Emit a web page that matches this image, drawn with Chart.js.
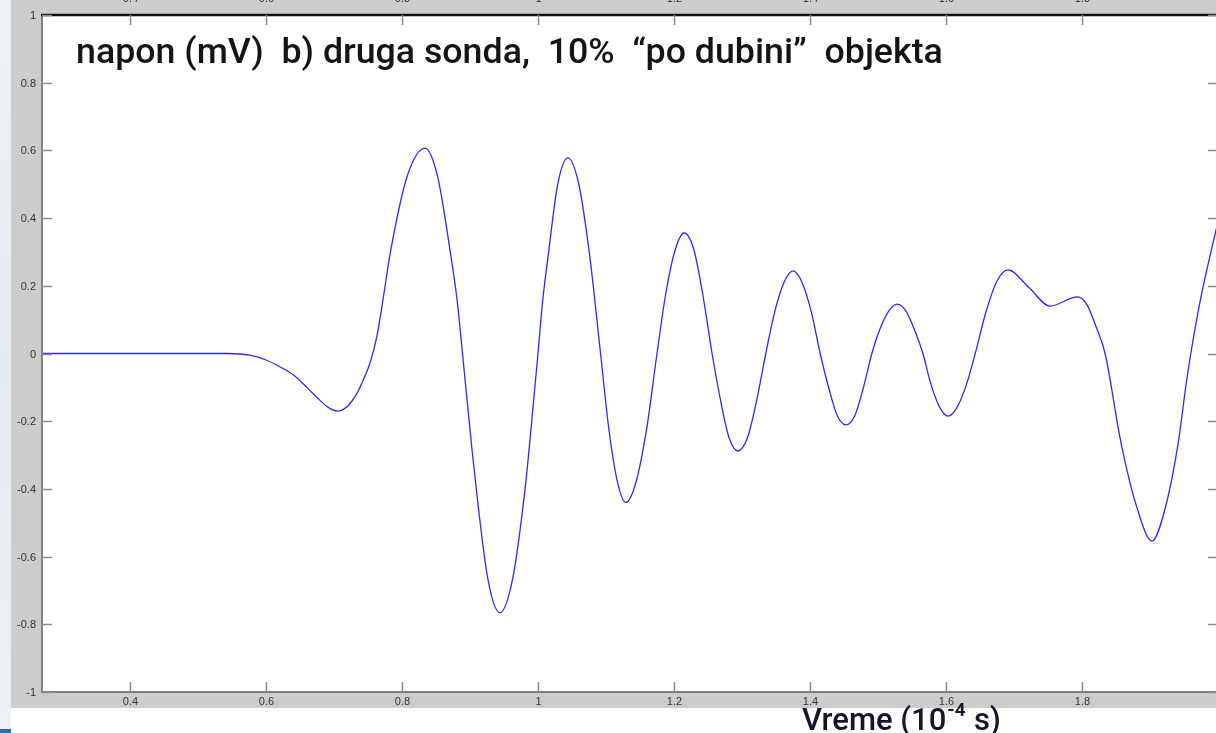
<!DOCTYPE html>
<html>
<head>
<meta charset="utf-8">
<script src="https://cdn.jsdelivr.net/npm/chart.js@4/dist/chart.umd.min.js"></script>
<style>
  html, body { margin: 0; padding: 0; overflow: hidden; background: #ffffff; }
  #wrap { position: relative; width: 1216px; height: 733px; overflow: hidden; }
  #c { position: absolute; left: 0; top: 0; }
</style>
</head>
<body>
<div id="wrap"><canvas id="c" width="1230" height="733"></canvas></div>
<script>
// Vreme (10^-4 s) and napon (mV) of the second probe
const vreme = [
  0.27, 0.543, 0.576, 0.601, 0.621, 0.640, 0.660, 0.675, 0.690, 0.705,
  0.719, 0.734, 0.743, 0.753, 0.763, 0.772, 0.783, 0.808, 0.834, 0.852,
  0.871, 0.881, 0.889, 0.903, 0.926, 0.944, 0.963, 0.981, 0.988, 1.000,
  1.007, 1.015, 1.029, 1.044, 1.060, 1.076, 1.092, 1.104, 1.117, 1.129,
  1.144, 1.160, 1.175, 1.188, 1.202, 1.215, 1.229, 1.242, 1.256, 1.269,
  1.281, 1.294, 1.308, 1.321, 1.335, 1.348, 1.362, 1.375, 1.388, 1.402,
  1.415, 1.428, 1.440, 1.453, 1.466, 1.478, 1.491, 1.503, 1.516, 1.528,
  1.541, 1.553, 1.566, 1.578, 1.591, 1.603, 1.616, 1.630, 1.643, 1.659,
  1.675, 1.691, 1.722, 1.753, 1.793, 1.807, 1.820, 1.834, 1.857, 1.880,
  1.903, 1.922, 1.941, 1.954, 1.960, 1.975, 2.0
];
const napon = [
  0, 0, -0.005, -0.02, -0.04, -0.063, -0.10, -0.13, -0.157, -0.170,
  -0.157, -0.117, -0.078, -0.028, 0.05, 0.158, 0.30, 0.526, 0.607, 0.526,
  0.30, 0.158, 0, -0.285, -0.663, -0.766, -0.663, -0.40, -0.26, 0,
  0.158, 0.289, 0.50, 0.578, 0.50, 0.289, 0, -0.22, -0.381, -0.44,
  -0.381, -0.22, 0, 0.178, 0.308, 0.356, 0.308, 0.178, 0, -0.144,
  -0.249, -0.288, -0.249, -0.144, 0, 0.122, 0.211, 0.244, 0.211, 0.122,
  0, -0.105, -0.183, -0.211, -0.183, -0.105, 0, 0.073, 0.126, 0.146,
  0.126, 0.073, 0, -0.092, -0.160, -0.185, -0.160, -0.092, 0, 0.124,
  0.214, 0.247, 0.195, 0.140, 0.167, 0.145, 0.083, 0, -0.26, -0.45,
  -0.554, -0.46, -0.27, -0.078, 0, 0.167, 0.39
];

const xTicks = [0.4, 0.6, 0.8, 1.0, 1.2, 1.4, 1.6, 1.8, 2.0];
const xTickLabels = ['0.4', '0.6', '0.8', '1', '1.2', '1.4', '1.6', '1.8', '2'];
const yTicks = [-1, -0.8, -0.6, -0.4, -0.2, 0, 0.2, 0.4, 0.6, 0.8, 1];
const yTickLabels = ['-1', '-0.8', '-0.6', '-0.4', '-0.2', '0', '0.2', '0.4', '0.6', '0.8', '1'];

const naslov = 'napon (mV)  b) druga sonda,  10%  \u201Cpo dubini\u201D  objekta';
const osaX = 'Vreme (10';
const osaXExp = '-4';
const osaXEnd = ' s)';

const TEXT_FONT = 'Roboto, "Open Sans", sans-serif';

// figure background, axes box, ticks and text
const figura = {
  id: 'figura',
  beforeDraw(chart) {
    const ctx = chart.ctx;
    const a = chart.chartArea;
    ctx.save();
    ctx.fillStyle = '#ffffff';
    ctx.fillRect(0, 0, chart.width, chart.height);
    // slide strip on the left
    const g = ctx.createLinearGradient(0, 0, 0, 733);
    g.addColorStop(0, '#eef2f5');
    g.addColorStop(0.5, '#e3eaf0');
    g.addColorStop(1, '#edf1f4');
    ctx.fillStyle = g;
    ctx.fillRect(0, 0, 11, 733);
    ctx.fillStyle = '#2a6db0';
    ctx.fillRect(0, 729, 11, 4);
    // grey figure panel
    ctx.fillStyle = '#cccccc';
    ctx.fillRect(11, 0, chart.width - 11, 708);
    // white axes
    ctx.fillStyle = '#ffffff';
    ctx.fillRect(a.left, a.top, a.right - a.left, a.bottom - a.top);
    ctx.restore();
  },
  afterDraw(chart) {
    const ctx = chart.ctx;
    const a = chart.chartArea;
    const xs = chart.scales.x, ys = chart.scales.y;
    ctx.save();
    // axis box
    ctx.strokeStyle = '#808080';
    ctx.lineWidth = 2;
    ctx.beginPath();
    ctx.moveTo(a.left, a.top); ctx.lineTo(a.left, a.bottom);
    ctx.lineTo(a.right, a.bottom); ctx.lineTo(a.right, a.top);
    ctx.stroke();
    ctx.strokeStyle = '#111111';
    ctx.lineWidth = 2.5;
    ctx.beginPath();
    ctx.moveTo(a.left - 1, a.top); ctx.lineTo(a.right, a.top);
    ctx.stroke();

    // ticks
    ctx.strokeStyle = '#8a8a8a';
    ctx.lineWidth = 1.5;
    const tl = 10;
    ctx.font = '11px "Liberation Sans", Arial, sans-serif';
    ctx.fillStyle = '#333333';
    xTicks.forEach((v, i) => {
      const px = Math.round(xs.getPixelForValue(v)) + 0.5;
      ctx.beginPath();
      ctx.moveTo(px, a.bottom); ctx.lineTo(px, a.bottom - tl);
      ctx.moveTo(px, a.top); ctx.lineTo(px, a.top + tl);
      ctx.stroke();
      ctx.textAlign = 'center';
      ctx.textBaseline = 'middle';
      ctx.fillText(xTickLabels[i], px, a.bottom + 10);
      ctx.fillText(xTickLabels[i], px, a.top - 16);
    });
    yTicks.forEach((v, i) => {
      const py = Math.round(ys.getPixelForValue(v)) + 0.5;
      ctx.beginPath();
      ctx.moveTo(a.left, py); ctx.lineTo(a.left + tl, py);
      ctx.moveTo(a.right, py); ctx.lineTo(a.right - tl, py);
      ctx.stroke();
      ctx.textAlign = 'right';
      ctx.textBaseline = 'middle';
      ctx.fillText(yTickLabels[i], a.left - 6, py);
    });

    // title inside the axes
    ctx.fillStyle = '#141414';
    ctx.textAlign = 'left';
    ctx.textBaseline = 'alphabetic';
    let fs = 30;
    ctx.font = '500 ' + fs + 'px ' + TEXT_FONT;
    const w = ctx.measureText(naslov).width;
    fs = fs * 867 / w;
    ctx.font = '500 ' + fs.toFixed(2) + 'px ' + TEXT_FONT;
    ctx.fillText(naslov, 76, 63);

    // x axis caption
    ctx.fillStyle = '#15152a';
    const capFont = s => '500 ' + s + 'px ' + TEXT_FONT;
    let cs = 28;
    ctx.font = capFont(cs);
    let w1 = ctx.measureText(osaX).width;
    ctx.font = 'bold ' + (cs * 0.6) + 'px ' + TEXT_FONT;
    let w2 = ctx.measureText(osaXExp).width;
    ctx.font = capFont(cs);
    let w3 = ctx.measureText(osaXEnd).width;
    cs = cs * 197 / (w1 + w2 + w3);
    ctx.font = capFont(cs);
    w1 = ctx.measureText(osaX).width;
    ctx.fillText(osaX, 802, 730);
    ctx.font = 'bold ' + (cs * 0.6).toFixed(2) + 'px ' + TEXT_FONT;
    w2 = ctx.measureText(osaXExp).width;
    ctx.fillText(osaXExp, 802 + w1 + 1, 716);
    ctx.font = capFont(cs);
    ctx.fillText(osaXEnd, 802 + w1 + w2 + 2, 730);
    ctx.restore();
  }
};

new Chart(document.getElementById('c'), {
  type: 'line',
  data: {
    labels: vreme,
    datasets: [{
      data: vreme.map((t, i) => ({ x: t, y: napon[i] })),
      borderColor: '#2a2aff',
      borderWidth: 1.3,
      pointRadius: 0,
      fill: false,
      cubicInterpolationMode: 'monotone'
    }]
  },
  options: {
    responsive: false,
    animation: false,
    devicePixelRatio: 1,
    layout: { padding: { left: 42, top: 15, right: 12, bottom: 41 } },
    plugins: { legend: { display: false }, tooltip: { enabled: false }, title: { display: false } },
    scales: {
      x: { type: 'linear', min: 0.2706, max: 2.0, display: false },
      y: { type: 'linear', min: -1, max: 1, display: false }
    }
  },
  plugins: [figura]
});
</script>
</body>
</html>
